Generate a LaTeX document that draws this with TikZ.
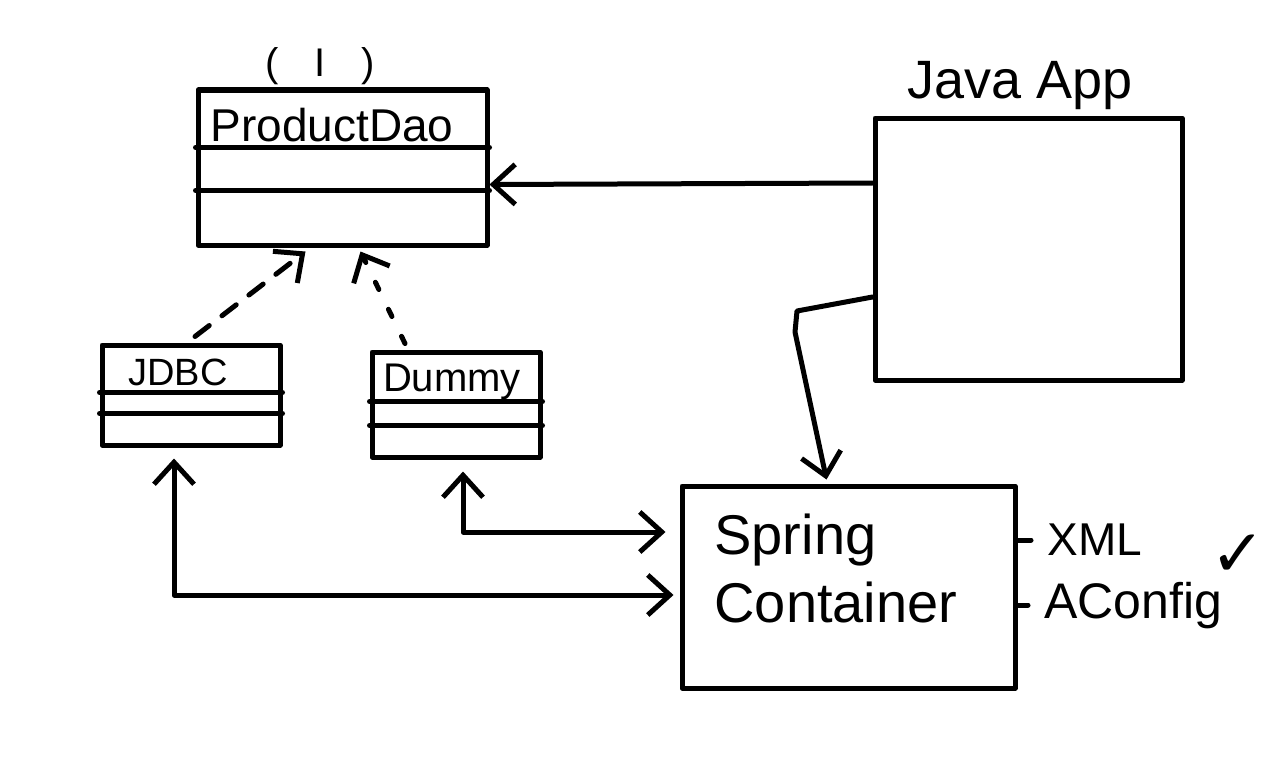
\documentclass[tikz,border=0pt]{standalone}
\usepackage{fontspec}
\setmainfont{Liberation Sans}
\newfontfamily\symfont{DejaVu Sans}
\usetikzlibrary{arrows.meta,calc}
\newcommand{\fs}[1]{\fontsize{#1}{#1}\selectfont}
\begin{document}
\begin{tikzpicture}[x=1pt,y=-1pt,
  line width=5pt, line cap=round, line join=round,
  box/.style={draw, inner sep=0pt},
  lbl/.style={inner sep=0pt},
  harrow/.style={-{Straight Barb[length=22pt,width=40pt]}},
  darrow/.style={{Straight Barb[length=22pt,width=40pt]}-{Straight Barb[length=22pt,width=40pt]}}
]
\path[use as bounding box] (0,0) rectangle (1280,768);

% ProductDao interface
\node[box, minimum width=289pt, minimum height=155pt] (pd) at (342.5,167.5) {};
\draw ([yshift=-60pt]pd.north west) -- ([yshift=-60pt]pd.north east);
\draw ([yshift=-103pt]pd.north west) -- ([yshift=-103pt]pd.north east);
\node[lbl, font=\fs{46}] (pdname) at (332,125) {ProductDao};
\node[lbl, font=\fs{40}] (iface) at (320,66) {(\hspace{36pt}I\hspace{36pt})};

% JDBC class
\node[box, minimum width=178pt, minimum height=100pt] (jdbc) at (191,395) {};
\draw ([yshift=-50pt]jdbc.north west) -- ([yshift=-50pt]jdbc.north east);
\draw ([yshift=-71pt]jdbc.north west) -- ([yshift=-71pt]jdbc.north east);
\node[lbl, font=\fs{38}] (jdbcname) at (178,372) {JDBC};

% Dummy class
\node[box, minimum width=168pt, minimum height=105pt] (dm) at (456,404.5) {};
\draw ([yshift=-52pt]dm.north west) -- ([yshift=-52pt]dm.north east);
\draw ([yshift=-76pt]dm.north west) -- ([yshift=-76pt]dm.north east);
\node[lbl, font=\fs{40}] (dmname) at (452,382) {Dummy};

% Java App
\node[box, minimum width=307pt, minimum height=262pt] (ja) at (1028.5,249) {};
\node[lbl, font=\fs{54}] (janame) at (1020,86) {Java App};

% Spring Container
\node[box, minimum width=333pt, minimum height=202pt] (sc) at (848.5,587) {};
\node[lbl, font=\fs{56}, align=left, anchor=west] (scname) at (712,568) {Spring\\[12pt]Container};

% config options
\node[lbl, font=\fs{46}, anchor=west] (xml) at (1045,540) {XML};
\node[lbl, font=\fs{50}, anchor=west] (acfg) at (1042,606) {AConfig};
\node[lbl, font=\fs{66}\symfont] (chk) at (1238,556) {✓};
\draw[shorten >=14pt] ([yshift=47pt]sc.east) -- (xml.west |- 0,540);
\draw[shorten >=14pt] ([yshift=-18pt]sc.east) -- (acfg.west |- 0,605);

% connectors
\coordinate (jb1) at (797,311);
\coordinate (jb2) at (795,332);
\draw[harrow] ([yshift=66pt]ja.west) -- ([yshift=-17pt]pd.east);
\draw[harrow, dash pattern=on 18pt off 16pt] ([xshift=4pt,yshift=6pt]jdbc.north) -- ([xshift=-37pt,yshift=-4pt]pd.south);
\draw[harrow, dash pattern=on 8pt off 22pt] ([xshift=-51pt,yshift=6pt]dm.north) -- ([xshift=18pt,yshift=-4pt]pd.south);
\draw[harrow] ([yshift=-48pt]ja.west) -- (jb1) -- (jb2) -- ([xshift=-22pt,yshift=4pt]sc.north);
\draw[darrow, shorten <=12pt, shorten >=14pt] ([xshift=7pt]dm.south) |- ([yshift=55pt]sc.west);
\draw[darrow, shorten <=11pt, shorten >=6pt] ([xshift=-17pt]jdbc.south) |- ([yshift=-8pt]sc.west);
\end{tikzpicture}
\end{document}
